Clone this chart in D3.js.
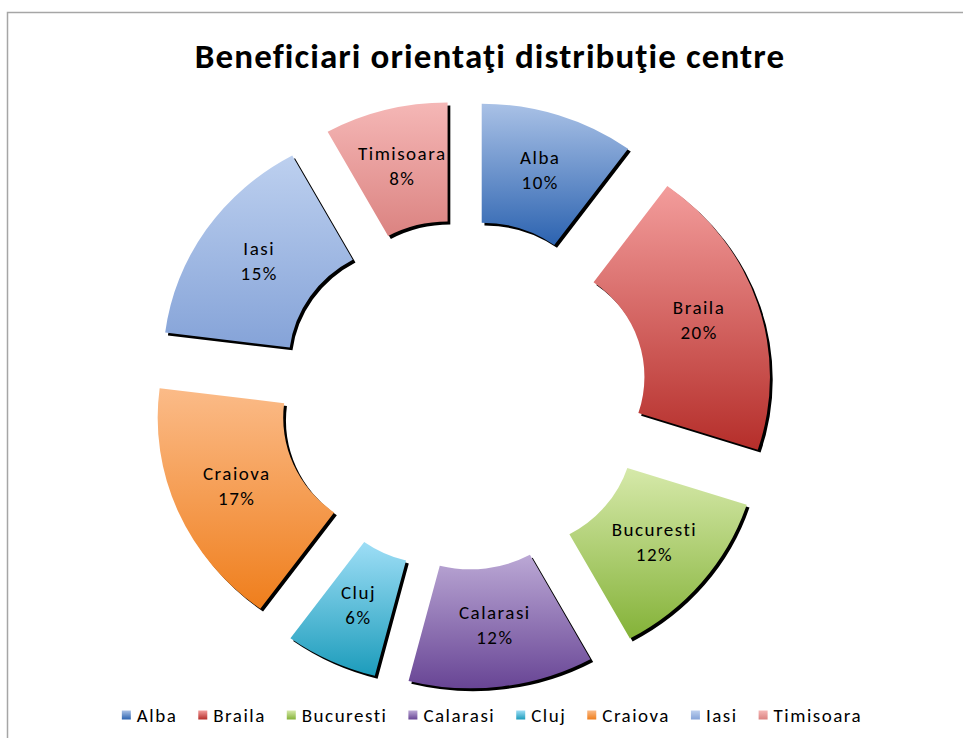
<!DOCTYPE html>
<html>
<head>
<meta charset="utf-8">
<script src="https://cdn.jsdelivr.net/npm/d3@7/dist/d3.min.js"></script>
<style>
  html, body { margin: 0; padding: 0; background: #fff; }
  svg { display: block; }
  text { font-family: Carlito, Calibri, Lato, "Liberation Sans", sans-serif; fill: #000; }
</style>
</head>
<body>
<svg id="chart" width="963" height="738"></svg>
<script>
// ---- data ----
const title = "Beneficiari orientaţi distribuţie centre";
const categories = ["Alba", "Braila", "Bucuresti", "Calarasi", "Cluj", "Craiova", "Iasi", "Timisoara"];
const values = [10, 20, 12, 12, 6, 17, 15, 8];
const colorsTop = ["#a9c1e6", "#f39d9c", "#d6e9aa", "#bba8d5", "#9edef6", "#fbbb88", "#bdd0ef", "#f5b7b6"];
const colorsBottom = ["#2c63b0", "#b52e2a", "#84b238", "#684595", "#1c9cbb", "#ef7e1c", "#85a3d8", "#db8381"];

// ---- layout ----
const W = 963, H = 738;
const cx = 462.8, cy = 394.8;
const sx = 1.055;          // horizontal stretch of the plot
const rInner = 117, rOuter = 236, explode = 58;

const svg = d3.select("#chart");
const defs = svg.append("defs");

categories.forEach((c, i) => {
  const g = defs.append("linearGradient")
    .attr("id", "grad" + i)
    .attr("x1", 0).attr("y1", 0).attr("x2", 0).attr("y2", 1);
  g.append("stop").attr("offset", "0%").attr("stop-color", colorsTop[i]);
  g.append("stop").attr("offset", "100%").attr("stop-color", colorsBottom[i]);
});

const blur = defs.append("filter").attr("id", "shadowBlur")
  .attr("x", "-10%").attr("y", "-10%").attr("width", "120%").attr("height", "120%");
blur.append("feGaussianBlur").attr("stdDeviation", 0.6);

// frame (partially visible border)
svg.append("rect")
  .attr("x", 7.5).attr("y", 12.5)
  .attr("width", 2000).attr("height", 2000)
  .attr("fill", "none").attr("stroke", "#a6a6a6").attr("stroke-width", 1.5);

// title
svg.append("text")
  .attr("x", 490).attr("y", 68)
  .attr("text-anchor", "middle")
  .style("font-size", "35px")
  .style("font-weight", "bold")
  .style("letter-spacing", "1.1px")
  .text(title);

// ---- pie ----
const pie = d3.pie().value(d => d).sort(null);
const arcs = pie(values);
const arc = d3.arc().innerRadius(rInner).outerRadius(rOuter);
const total = d3.sum(values);
const pct = d3.format(".0%");

const plot = svg.append("g")
  .attr("transform", `translate(${cx},${cy}) scale(${sx},1)`);

const slices = plot.selectAll("g.slice")
  .data(arcs)
  .enter().append("g")
  .attr("class", "slice")
  .attr("transform", d => {
    const m = (d.startAngle + d.endAngle) / 2;
    return `translate(${explode * Math.sin(m)},${-explode * Math.cos(m)})`;
  });

slices.append("path")
  .attr("d", arc)
  .attr("transform", "translate(2.6,2.8)")
  .attr("fill", "#000")
  .attr("filter", "url(#shadowBlur)");

slices.append("path")
  .attr("d", arc)
  .attr("fill", (d, i) => `url(#grad${i})`);

// labels
const labelR = explode + (rInner + rOuter) / 2;
const labels = svg.append("g").selectAll("text.lbl")
  .data(arcs)
  .enter().append("text")
  .attr("class", "lbl")
  .attr("text-anchor", "middle")
  .style("font-size", "19px")
  .style("letter-spacing", "1.5px")
  .attr("transform", d => {
    const m = (d.startAngle + d.endAngle) / 2;
    return `translate(${cx + sx * labelR * Math.sin(m) + 1},${cy - labelR * Math.cos(m)})`;
  });
labels.append("tspan").attr("x", 0).attr("y", -8).text((d, i) => categories[i]);
labels.append("tspan").attr("x", 0).attr("y", 17).text(d => pct(d.value / total));

// ---- legend ----
const legend = svg.append("g");
const sq = 9, gapText = 6, gapItem = 21;
let xPos = 0;
categories.forEach((c, i) => {
  const it = legend.append("g");
  it.append("rect")
    .attr("x", 0).attr("y", -sq / 2 - 1)
    .attr("width", sq).attr("height", sq)
    .attr("fill", `url(#grad${i})`);
  const t = it.append("text")
    .attr("x", sq + gapText).attr("y", 6)
    .style("font-size", "19px")
    .style("letter-spacing", "1.5px")
    .text(c);
  const w = sq + gapText + t.node().getComputedTextLength();
  it.attr("transform", `translate(${xPos},0)`);
  xPos += w + gapItem;
});
const legendWidth = xPos - gapItem;
legend.attr("transform", `translate(${492 - legendWidth / 2},716)`);
</script>
</body>
</html>
